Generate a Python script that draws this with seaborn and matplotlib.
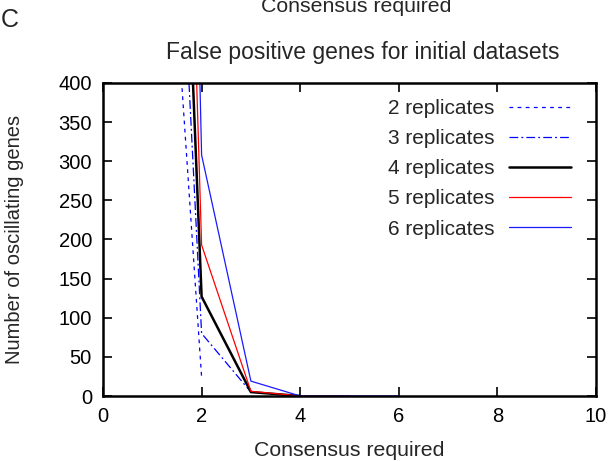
import matplotlib
matplotlib.use("Agg")
import matplotlib.pyplot as plt
import seaborn as sns
import pandas as pd

consensus = [1, 2, 3, 4, 5, 6]
rep2 = [955, 24]
rep3 = [1330, 80, 5]
rep4 = [1690, 127, 5, 0]
rep5 = [2260, 193, 6, 0, 0]
rep6 = [3000, 308, 19, 0, 0, 0]
labels = ["2 replicates", "3 replicates", "4 replicates", "5 replicates", "6 replicates"]
x_ticks = [0, 2, 4, 6, 8, 10]
y_ticks = [0, 50, 100, 150, 200, 250, 300, 350, 400]

sns.set_theme(style="white")
plt.rcParams['font.family'] = ['Liberation Sans', 'DejaVu Sans']

fig = plt.figure(figsize=(6.13, 4.61), dpi=100)
ax = fig.add_axes([103/613, 1-396/461, (596-103)/613, (396-83)/461])

styles = [
    dict(color="#0000ff", lw=0.9, dashes=(3, 3.5)),
    dict(color="#0000ff", lw=0.9, dashes=(7, 2.5, 1.5, 2.5)),
    dict(color="black", lw=1.8, dashes=()),
    dict(color="#ff0000", lw=0.9, dashes=()),
    dict(color="#1a1aff", lw=0.9, dashes=()),
]
series = [rep2, rep3, rep4, rep5, rep6]
for lab, vals, st in zip(labels, series, styles):
    df = pd.DataFrame({"x": consensus[:len(vals)], "y": vals})
    sns.lineplot(data=df, x="x", y="y", ax=ax, color=st["color"], lw=st["lw"], label=lab)
    l = ax.get_lines()[-1]
    if st["dashes"]:
        l.set_dashes(st["dashes"])

ax.set_xlim(0, 10)
ax.set_ylim(0, 400)
ax.set_xticks(x_ticks)
ax.set_yticks(y_ticks)
ax.set_xlabel("Consensus required", fontsize=15.3)
ax.set_ylabel("Number of oscillating genes", fontsize=14.5)
ax.xaxis.set_label_coords(0.5, (396-450)/313)
ax.xaxis.label.set_va("center")
ax.yaxis.set_label_coords((15-103)/493, 0.5)
ax.yaxis.label.set_va("center")
ax.tick_params(direction="in", length=6.5, width=1.2, labelsize=14.5, top=True, right=True,
               bottom=True, left=True, pad=8, colors="black")
ax.tick_params(axis="x", labeltop=False)
ax.tick_params(axis="y", labelright=False)
for s in ax.spines.values():
    s.set_color("black")
    s.set_linewidth(1.8)
    s.set_visible(True)

leg = ax.legend(loc="upper right", bbox_to_anchor=(0.988, 1.009), markerfirst=False, frameon=False,
                fontsize=15, handlelength=3.0, labelspacing=0.535, handletextpad=0.7)

fig.text(363/613, 1-52/461, "False positive genes for initial datasets", ha="center", va="center", fontsize=16.5)
fig.text(356/613, 1-7/461, "Consensus required", ha="center", va="center", fontsize=15.3)
fig.text(1/613, 1-20/461, "C", ha="left", va="center", fontsize=18)

fig.savefig("out.png", dpi=100)
